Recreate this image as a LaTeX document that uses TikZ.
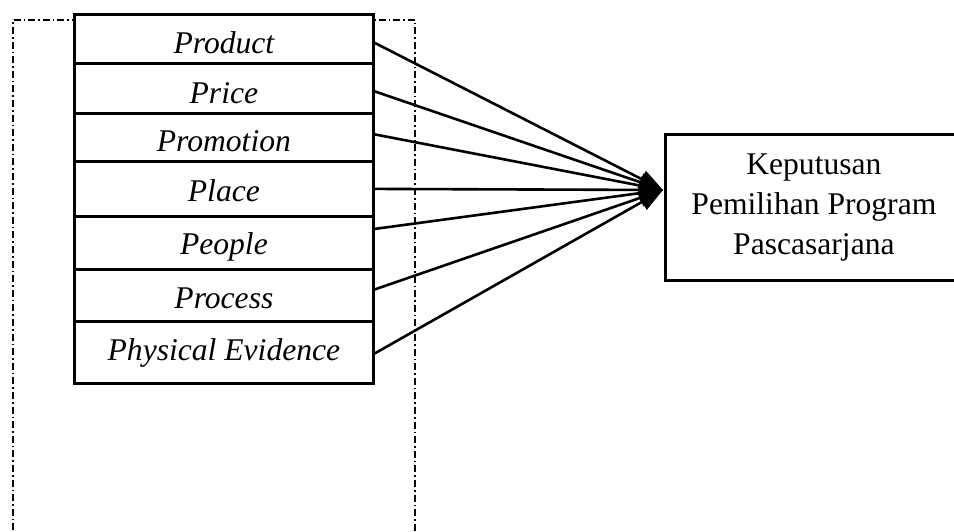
\documentclass[tikz,border=0pt]{standalone}
\usepackage{fontspec}
\setmainfont{Liberation Serif}
\usetikzlibrary{arrows.meta}

\tikzset{
  mixbox/.style={draw, fill=white, line width=1.4pt, minimum width=149.5pt,
    anchor=north west, inner sep=0pt, text height=15pt,
    font=\fontsize{15.8}{20}\selectfont\itshape},
  resultbox/.style={draw, line width=1.4pt, minimum width=148.5pt, minimum height=73pt,
    anchor=north west, align=center, font=\fontsize{15.8}{20}\selectfont},
  arrowline/.style={line width=1.3pt, -{Triangle[length=12pt,width=9pt]}}
}

\begin{document}
\begin{tikzpicture}[x=0.5pt, y=-0.5pt]
  \useasboundingbox (0,0) rectangle (954,531);

  % dash-dot frame, open at the bottom
  \draw[line width=1.1pt, dash pattern=on 3.5pt off 1.5pt on 0.8pt off 1.5pt]
    (13,545) -- (13,20) -- (415,20) -- (415,545);

  % marketing mix rows
  \foreach \name/\ytop/\rowh/\tdep/\txt in {product/13/24.5/0/Product,
      price/62/25/0/Price, promotion/112/24/1/Promotion, place/160/27.5/2.5/Place,
      people/215/26.5/3.5/People, process/268/26/2/Process,
      evidence/320/31/6.5/Physical Evidence}
    \node[mixbox, minimum height=\rowh pt, text depth=\tdep pt] (\name) at (73,\ytop) {\txt};

  \node[resultbox] (decision) at (664,133) {Keputusan\\Pemilihan Program\\Pascasarjana};
  \coordinate (tip) at (663,190);

  \foreach \row/\dy in {product/-2, price/-1.5, promotion/1.5, place/0,
      people/7, process/3, evidence/-0.5}
    \draw[arrowline] ([yshift=\dy pt]\row.east) -- (tip);
\end{tikzpicture}
\end{document}
